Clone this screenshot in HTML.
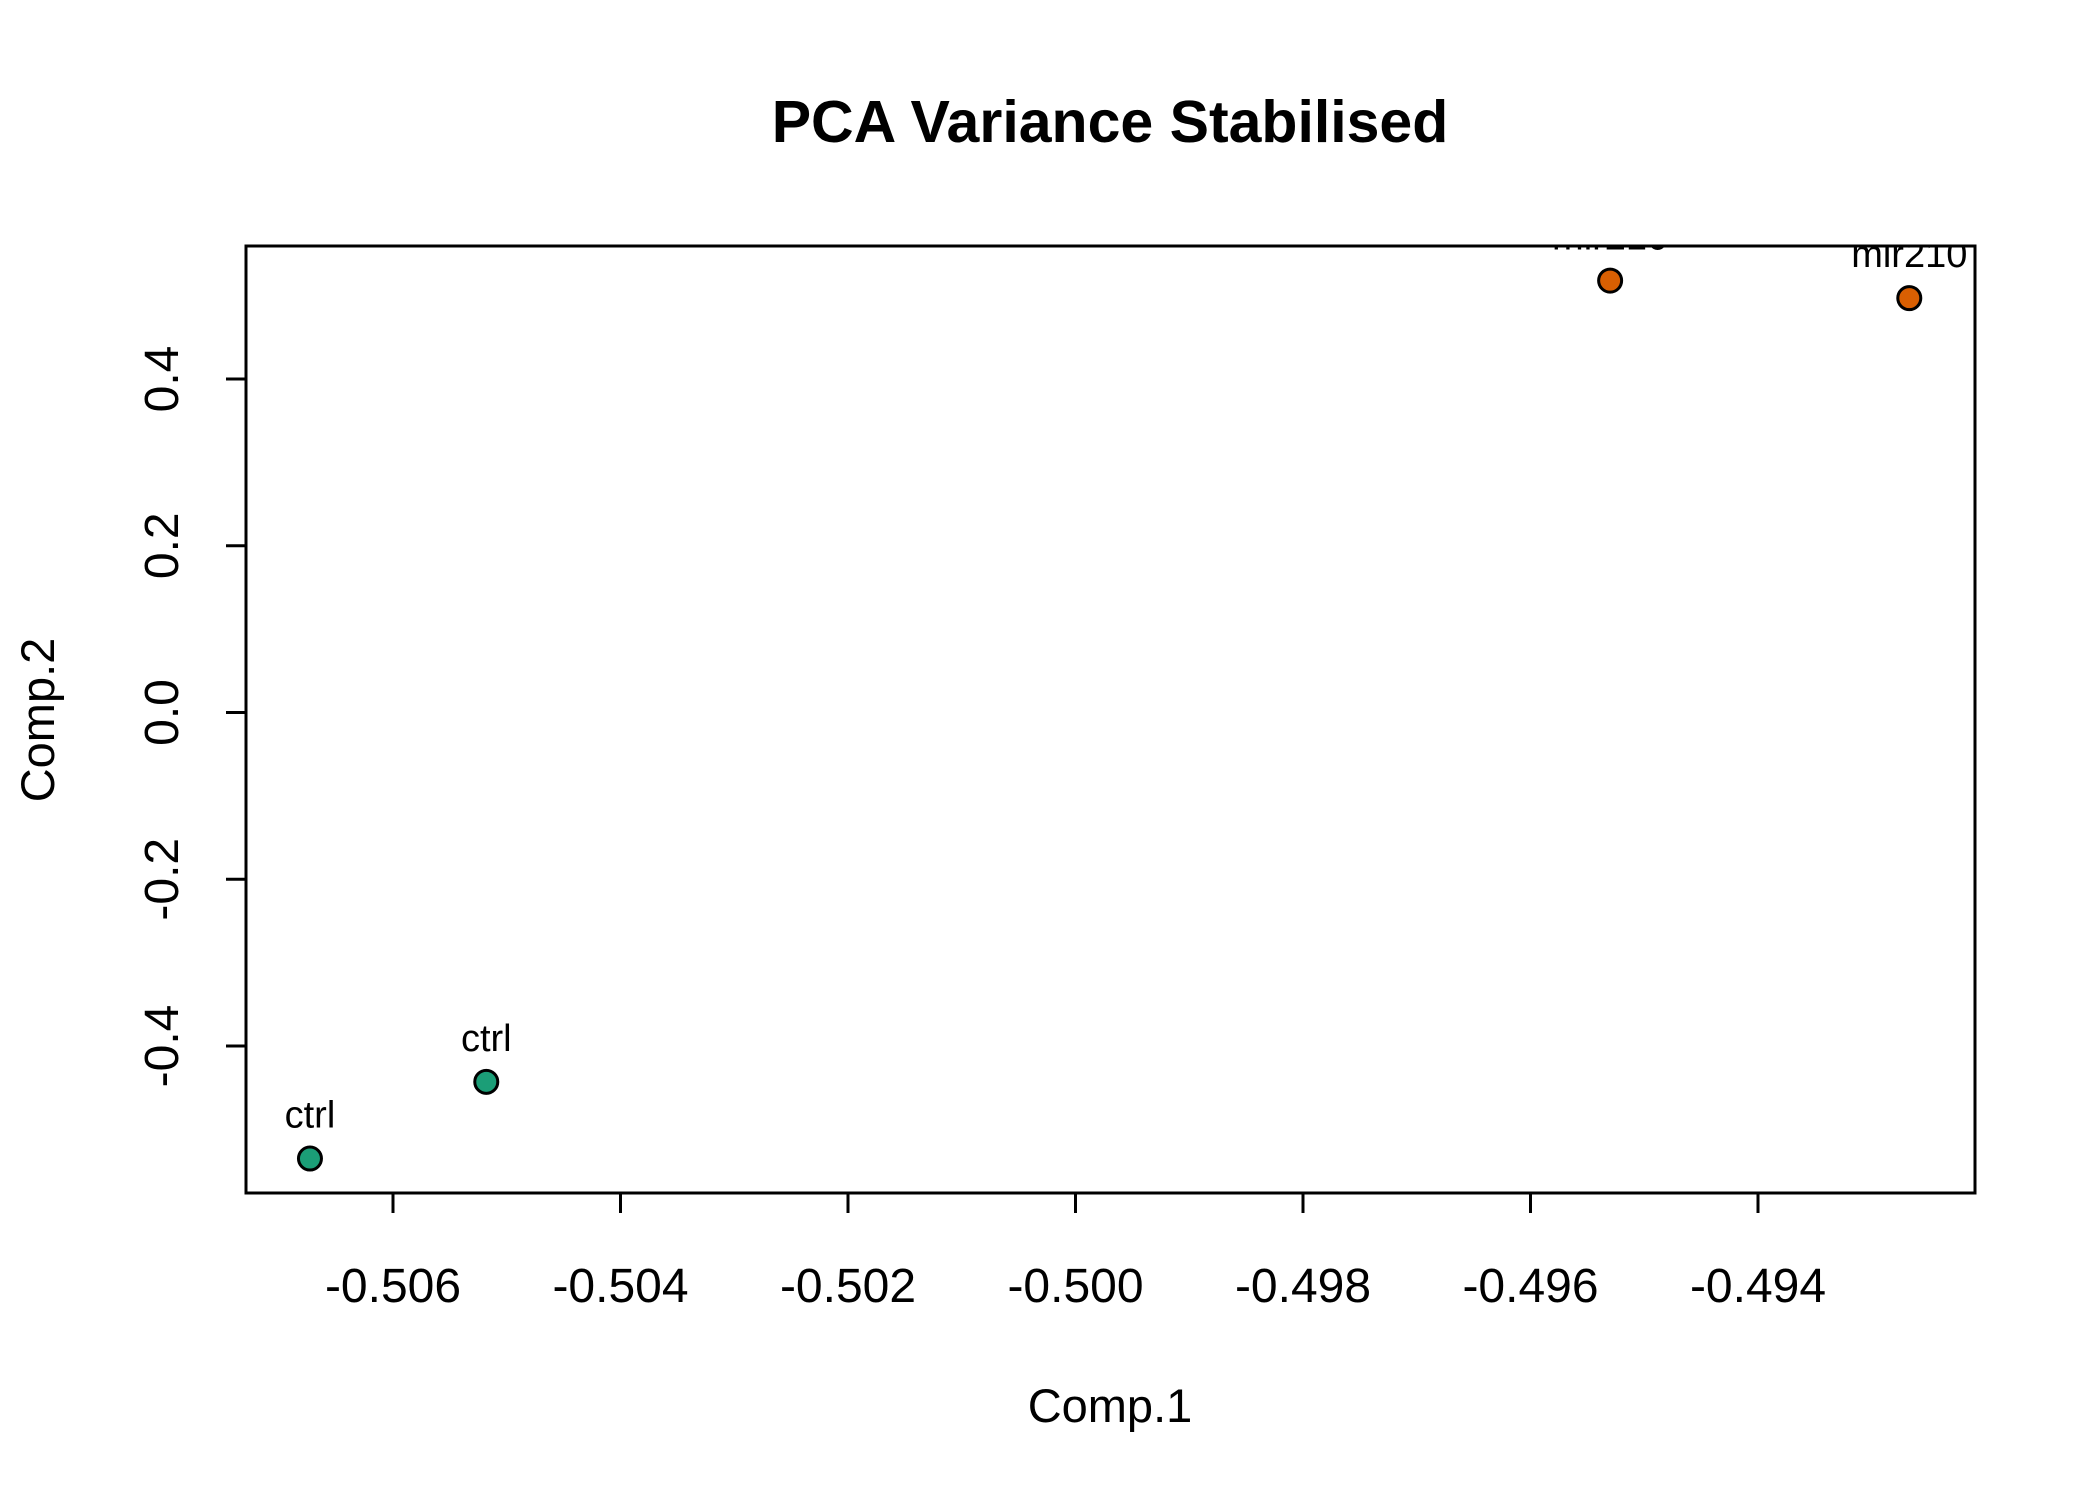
<!DOCTYPE html>
<html><head><meta charset="utf-8"><style>html,body{margin:0;padding:0;background:#fff}svg{display:block}text{font-family:"Liberation Sans",sans-serif}</style></head>
<body>
<svg id="chart" width="2100" height="1500" viewBox="0 0 2100 1500">
<defs><clipPath id="pc"><rect x="246" y="246" width="1729" height="947"/></clipPath></defs>
<text x="1110" y="142" text-anchor="middle" font-size="59" font-weight="bold">PCA Variance Stabilised</text>
<rect x="246" y="246" width="1729" height="947" fill="none" stroke="#000" stroke-width="3"/>
<g id="xaxis"></g>
<g id="yaxis"></g>
<g id="pts"></g>
<g id="labels" clip-path="url(#pc)"></g>
<text x="1110" y="1422" text-anchor="middle" font-size="47">Comp.1</text>
<text transform="translate(54,720) rotate(-90)" text-anchor="middle" font-size="47">Comp.2</text>
</svg>
<script>
const xTicks = [-0.506, -0.504, -0.502, -0.500, -0.498, -0.496, -0.494];
const xTickLabels = ["-0.506", "-0.504", "-0.502", "-0.500", "-0.498", "-0.496", "-0.494"];
const yTicks = [-0.4, -0.2, 0.0, 0.2, 0.4];
const yTickLabels = ["-0.4", "-0.2", "0.0", "0.2", "0.4"];
const sampleLabels = ["ctrl", "ctrl", "mir210", "mir210"];
const comp1 = [-0.50673, -0.50518, -0.49530, -0.49267];
const comp2 = [-0.535, -0.443, 0.518, 0.497];
const groupColors = {"ctrl": "#1b9e77", "mir210": "#d95f02"};

const NS = "http://www.w3.org/2000/svg";
function X(v){ return 393 + (v - (-0.506)) * 113750; }
function Y(v){ return 712.5 - v * 833.75; }
function mk(tag, attrs, parent){ const e = document.createElementNS(NS, tag); for (const k in attrs) e.setAttribute(k, attrs[k]); parent.appendChild(e); return e; }

const xa = document.getElementById('xaxis');
mk('line', {x1: X(xTicks[0]), x2: X(xTicks[xTicks.length-1]), y1: 1193, y2: 1193, stroke: '#000', 'stroke-width': 3}, xa);
xTicks.forEach((t, i) => {
  const l = mk('line', {x1: X(t), x2: X(t), y1: 1193, y2: 1213, stroke: '#000', 'stroke-width': 3}, xa);
  
  
  const tx = mk('text', {x: X(t), y: 1302, 'text-anchor': 'middle', 'font-size': 48}, xa);
  tx.textContent = xTickLabels[i];
  
  
});
const ya = document.getElementById('yaxis');
mk('line', {x1: 246, x2: 246, y1: Y(yTicks[0]), y2: Y(yTicks[yTicks.length-1]), stroke: '#000', 'stroke-width': 3}, ya);
yTicks.forEach((t, i) => {
  const l = mk('line', {x1: 226, x2: 246, y1: Y(t), y2: Y(t), stroke: '#000', 'stroke-width': 3}, ya);
  
  
  const tx = mk('text', {transform: 'translate(178,' + Y(t) + ') rotate(-90)', 'text-anchor': 'middle', 'font-size': 48}, ya);
  tx.textContent = yTickLabels[i];
  
  
});
const pg = document.getElementById('pts'), lg = document.getElementById('labels');
comp1.forEach((v, i) => {
  const c = mk('circle', {cx: X(v), cy: Y(comp2[i]), r: 11.5, fill: groupColors[sampleLabels[i]], stroke: '#000', 'stroke-width': 3}, pg);
  
  
  const t = mk('text', {x: X(v), y: Y(comp2[i]) - 31, 'text-anchor': 'middle', 'font-size': 38}, lg);
  t.textContent = sampleLabels[i];
  
  
});
</script>
</body></html>
